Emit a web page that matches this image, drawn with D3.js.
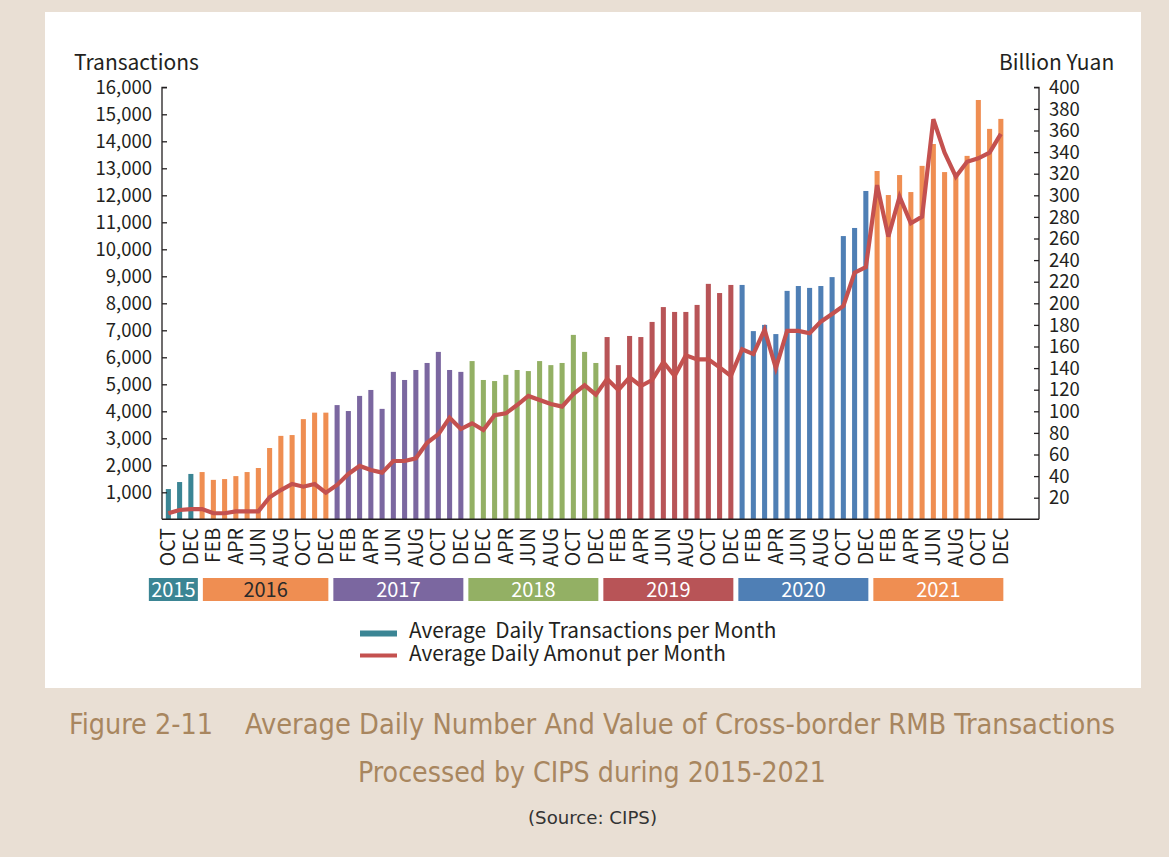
<!DOCTYPE html>
<html>
<head>
<meta charset="utf-8">
<script src="https://cdn.jsdelivr.net/npm/d3@7"></script>
<style>
  html, body { margin: 0; padding: 0; background: #e9dfd4; }
  svg { display: block; }
  text { white-space: pre; }
</style>
</head>
<body>
<svg id="chart" width="1169" height="857"></svg>
<script>
// ---------- DATA ----------
const years = ["2015", "2016", "2017", "2018", "2019", "2020", "2021"];
const monthsPerYear = [3, 12, 12, 12, 12, 12, 12];
const yearColors = ["#3b8594", "#ef8e52", "#7b67a0", "#93b064", "#b85457", "#4f7fb5", "#ef8e52"];
const yearTextColors = ["#ffffff", "#2a2a2a", "#ffffff", "#ffffff", "#ffffff", "#ffffff", "#ffffff"];

// Month tick labels (every other month, as printed in the source)
const tickLabels = ["OCT","DEC","FEB","APR","JUN","AUG","OCT","DEC","FEB","APR","JUN","AUG","OCT","DEC",
  "DEC","APR","JUN","AUG","OCT","DEC","FEB","APR","JUN","AUG","OCT","DEC",
  "FEB","APR","JUN","AUG","OCT","DEC","FEB","APR","JUN","AUG","OCT","DEC"];

// Average daily transactions per month
const transactions = [
  1120, 1380, 1680,
  1750, 1460, 1490, 1600, 1750, 1900, 2640, 3090, 3120, 3710, 3950, 3950,
  4230, 4010, 4570, 4790, 4090, 5460, 5160, 5530, 5790, 6200, 5530, 5460,
  5860, 5160, 5120, 5350, 5530, 5490, 5860, 5710, 5790, 6830, 6200, 5790,
  6750, 5710, 6790, 6750, 7310, 7860, 7680, 7680, 7940, 8720, 8380, 8680,
  8680, 6970, 7200, 6860, 8460, 8640, 8570, 8640, 8970, 10490, 10790, 12160,
  12900, 12010, 12750, 12120, 13090, 13900, 12860, 12720, 13460, 15530, 14460, 14830
];

// Average daily amount per month (billion yuan)
const amounts = [
  5.6, 8.6, 9.5,
  9.5, 5.6, 5.6, 7.4, 7.4, 7.4, 20.4, 27.1, 32.7, 30.2, 32.7, 24.6,
  31.8, 42.0, 49.4, 45.7, 43.2, 54.0, 54.0, 56.5, 70.9, 78.7, 94.1, 83.6,
  88.9, 82.7, 96.3, 98.1, 105.8, 114.2, 110.5, 106.8, 104.3, 116.0, 124.1, 115.4,
  130.0, 119.7, 131.5, 123.4, 129.0, 145.6, 132.7, 151.9, 148.1, 148.1, 140.7, 132.7,
  157.4, 153.0, 175.6, 140.0, 174.4, 174.4, 172.2, 183.0, 190.1, 197.5, 228.4, 233.6,
  309.4, 261.7, 298.7, 274.1, 280.2, 370.4, 339.5, 317.2, 331.1, 334.2, 339.5, 356.8
];

const leftTicks = d3.range(1000, 16001, 1000);
const rightTicks = d3.range(20, 401, 20);

const seriesNames = ["Average  Daily Transactions per Month", "Average Daily Amonut per Month"];
const titleLine1a = "Figure 2-11";
const titleLine1b = "Average Daily Number And Value of Cross-border RMB Transactions";
const titleLine2 = "Processed by CIPS during 2015-2021";
const sourceText = "(Source: CIPS)";

// ---------- BUILD ----------
const months = [];
years.forEach((y, yi) => {
  for (let k = 0; k < monthsPerYear[yi]; k++) months.push({ year: yi, key: y + "-" + k });
});
months.forEach((m, i) => { m.tx = transactions[i]; m.amt = amounts[i]; });

const svg = d3.select("#chart");
const FONT = "'Noto Sans CJK SC', 'Noto Sans', sans-serif";
const TITLEFONT = "'Liberation Sans Narrow', 'DejaVu Sans Condensed', sans-serif";
const INK = "#231f20";

svg.append("rect").attr("x", 0).attr("y", 0).attr("width", 1169).attr("height", 857).attr("fill", "#e9dfd4");
svg.append("rect").attr("x", 45).attr("y", 12).attr("width", 1096).attr("height", 676).attr("fill", "#ffffff");

const plotLeft = 162, plotRight = 1039, plotTop = 87.3, plotBottom = 519.3;

const x = d3.scaleBand()
  .domain(months.map(m => m.key))
  .range([plotLeft, 1007.2])
  .paddingInner(0.55)
  .paddingOuter(0.34);
const cx = k => x(k) + x.bandwidth() / 2;

const yL = d3.scaleLinear().domain([0, 16000]).range([plotBottom, plotTop]);
const yR = d3.scaleLinear().domain([0, 400]).range([plotBottom, plotTop]);

// Bars
svg.append("g").selectAll("rect").data(months).join("rect")
  .attr("x", d => x(d.key))
  .attr("y", d => yL(d.tx))
  .attr("width", x.bandwidth())
  .attr("height", d => yL(0) - yL(d.tx))
  .attr("fill", d => yearColors[d.year]);

// Line
const line = d3.line()
  .x(d => cx(d.key))
  .y(d => yR(d.amt));
svg.append("path").datum(months)
  .attr("d", line)
  .attr("fill", "none")
  .attr("stroke", "#c4514f")
  .attr("stroke-width", 4.2)
  .attr("stroke-linejoin", "miter");

// Left axis
const axL = svg.append("g").attr("transform", `translate(${plotLeft},0)`)
  .call(d3.axisRight(yL).tickValues(leftTicks).tickSize(5).tickFormat(""));
axL.select(".domain").attr("d", `M5,${plotTop}H0V${plotBottom}`);
axL.selectAll("path,line").attr("stroke", INK).attr("stroke-width", 1.3);
svg.append("g").selectAll("text").data(leftTicks).join("text")
  .attr("x", 152).attr("y", d => yL(d)).attr("dy", "0.36em")
  .attr("text-anchor", "end")
  .attr("font-family", FONT).attr("font-size", 18.5).attr("fill", INK)
  .text(d3.format(","));

// Right axis
const axR = svg.append("g").attr("transform", `translate(${plotRight},0)`)
  .call(d3.axisLeft(yR).tickValues(rightTicks).tickSize(5).tickFormat(""));
axR.select(".domain").attr("d", `M-5,${plotTop}H0V${plotBottom}`);
axR.selectAll("path,line").attr("stroke", INK).attr("stroke-width", 1.3);
svg.append("g").selectAll("text").data(rightTicks).join("text")
  .attr("x", 1049).attr("y", d => yR(d)).attr("dy", "0.36em")
  .attr("text-anchor", "start")
  .attr("font-family", FONT).attr("font-size", 18.5).attr("fill", INK)
  .text(d => d);

// X axis line
svg.append("line").attr("x1", plotLeft).attr("x2", plotRight)
  .attr("y1", plotBottom).attr("y2", plotBottom)
  .attr("stroke", INK).attr("stroke-width", 1.5);

// Axis titles
svg.append("text").attr("x", 74).attr("y", 70).attr("font-family", FONT).attr("font-size", 21)
  .attr("fill", INK).text("Transactions");
svg.append("text").attr("x", 999).attr("y", 70).attr("font-family", FONT).attr("font-size", 21)
  .attr("fill", INK).text("Billion Yuan");

// Month tick labels (rotated)
const labelled = months.filter((m, i) => i % 2 === 0);
svg.append("g").selectAll("text").data(labelled).join("text")
  .attr("transform", (d) => `translate(${cx(d.key)},528) rotate(-90)`)
  .attr("text-anchor", "end")
  .attr("dy", "0.36em")
  .attr("font-family", FONT).attr("font-size", 19.5).attr("fill", INK)
  .text((d, i) => tickLabels[i]);

// Year bands
let idx = 0, prevEnd = -Infinity;
const bands = years.map((y, yi) => {
  const first = months[idx], last = months[idx + monthsPerYear[yi] - 1];
  idx += monthsPerYear[yi];
  let x1 = cx(last.key) + 2.5;
  let x0 = cx(first.key) - 4;
  if (x1 - x0 < 49) { x1 += 4.5; x0 = x1 - 49; }
  x0 = Math.max(x0, prevEnd + 5);
  prevEnd = x1;
  return { y, yi, x0, x1 };
});
const bandG = svg.append("g");
bandG.selectAll("rect").data(bands).join("rect")
  .attr("x", d => d.x0).attr("y", 578).attr("width", d => d.x1 - d.x0).attr("height", 23)
  .attr("fill", d => yearColors[d.yi]);
bandG.selectAll("text").data(bands).join("text")
  .attr("x", d => (d.x0 + d.x1) / 2).attr("y", 589.5).attr("dy", "0.36em")
  .attr("text-anchor", "middle")
  .attr("font-family", FONT).attr("font-size", 20)
  .attr("fill", d => yearTextColors[d.yi])
  .text(d => d.y);

// Legend
const lg = svg.append("g");
lg.append("rect").attr("x", 360).attr("y", 630.5).attr("width", 37).attr("height", 6).attr("fill", yearColors[0]);
lg.append("line").attr("x1", 360).attr("x2", 397).attr("y1", 655.5).attr("y2", 655.5)
  .attr("stroke", "#c4514f").attr("stroke-width", 4);
lg.append("text").attr("x", 409).attr("y", 638).attr("font-family", FONT).attr("font-size", 20.8)
  .attr("fill", INK).text(seriesNames[0]);
lg.append("text").attr("x", 409).attr("y", 661).attr("font-family", FONT).attr("font-size", 20.8)
  .attr("fill", INK).text(seriesNames[1]);

// Figure title
svg.append("text").attr("x", 69).attr("y", 734).attr("font-family", TITLEFONT).attr("font-size", 29)
  .attr("fill", "#a8865f").attr("textLength", 144).attr("lengthAdjust", "spacingAndGlyphs").text(titleLine1a);
svg.append("text").attr("x", 245).attr("y", 734).attr("font-family", TITLEFONT).attr("font-size", 29)
  .attr("fill", "#a8865f").attr("textLength", 870).attr("lengthAdjust", "spacingAndGlyphs").text(titleLine1b);
svg.append("text").attr("x", 358).attr("y", 782).attr("font-family", TITLEFONT).attr("font-size", 29)
  .attr("fill", "#a8865f").attr("textLength", 468).attr("lengthAdjust", "spacingAndGlyphs").text(titleLine2);
svg.append("text").attr("x", 528).attr("y", 824).attr("font-family", TITLEFONT).attr("font-size", 18)
  .attr("fill", "#333333").attr("textLength", 129).attr("lengthAdjust", "spacingAndGlyphs").text(sourceText);
</script>
</body>
</html>
